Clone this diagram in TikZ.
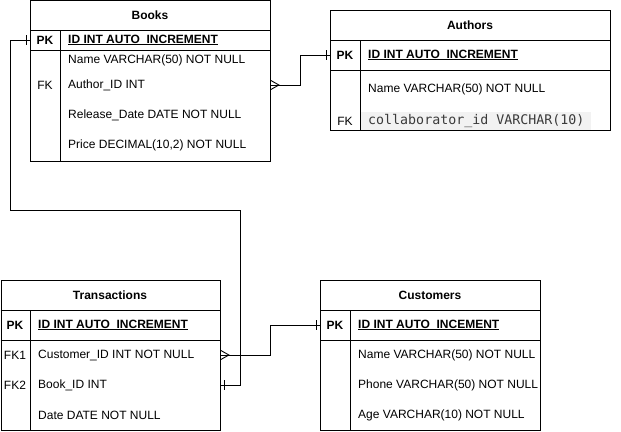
\documentclass[tikz,border=0pt]{standalone}
\usepackage{fontspec}
\setmainfont{Liberation Sans}
\setmonofont{DejaVu Sans Mono}
\usetikzlibrary{calc}
\definecolor{codebg}{HTML}{F2F2F2}
\definecolor{codefg}{HTML}{3B3B3B}
\newcommand\myul[1]{\setbox0\hbox{#1}\rlap{\rule[-2.2pt]{\wd0}{0.9pt}}\box0}
\tikzset{
  tbl/.style={draw, line width=0.9pt, minimum width=#1, inner sep=0pt, anchor=north west, rectangle},
  ttl/.style={font=\fontsize{12}{14}\selectfont\bfseries, inner sep=0pt, anchor=center},
  key/.style={font=\fontsize{12}{14}\selectfont, inner sep=0pt, anchor=center},
  pkkey/.style={font=\fontsize{12}{14}\selectfont\bfseries, inner sep=0pt, anchor=center},
  fld/.style={font=\fontsize{12}{14}\selectfont, inner sep=0pt, anchor=west},
  pkfld/.style={font=\fontsize{12}{14}\selectfont\bfseries, inner sep=0pt, anchor=west},
  grid/.style={line width=0.9pt},
  conn/.style={line width=0.9pt},
}
\begin{document}
\begin{tikzpicture}[x=1pt,y=-1pt]
\useasboundingbox (0,0) rectangle (621,431);
% ---------- Books ----------
\node[tbl=240pt, minimum height=160pt] (books) at (30,0.5) {};
\draw[grid] (30,30) -- (270,30) (30,50) -- (270,50) (60,30) -- (60,160.5);
\node[ttl] (booksT) at (150,15) {Books};
\node[pkkey] (booksPKk) at (45,40) {PK};
\node[pkfld] (booksPK) at (68,40) {\myul{ID INT AUTO\_INCREMENT}};
\node[fld] (booksName) at (68,60) {Name VARCHAR(50) NOT NULL};
\node[key] (booksFKk) at (45,85) {FK};
\node[fld] (booksAuth) at (68,85) {Author\_ID INT};
\node[fld] (booksRel) at (68,115) {Release\_Date DATE NOT NULL};
\node[fld] (booksPrice) at (68,145) {Price DECIMAL(10,2) NOT NULL};
% ---------- Authors ----------
\node[tbl=280pt, minimum height=120pt] (authors) at (330,10) {};
\draw[grid] (330,40) -- (610,40) (330,70) -- (610,70) (360,40) -- (360,130);
\node[ttl] (authT) at (470,25) {Authors};
\node[pkkey] (authPKk) at (345,55) {PK};
\node[pkfld] (authPK) at (368,55) {\myul{ID INT AUTO\_INCREMENT}};
\node[fld] (authName) at (368,89) {Name VARCHAR(50) NOT NULL};
\node[key] (authFKk) at (345,121) {FK};
\node[anchor=west, fill=codebg, text=codefg, inner xsep=7pt, inner ysep=2.5pt,
      font=\ttfamily\fontsize{13.3}{15}\selectfont] (authCollab) at (361,121) {collaborator\_id VARCHAR(10)};
% ---------- Transactions ----------
\node[tbl=219.5pt, minimum height=150pt] (trans) at (0.5,280) {};
\draw[grid] (0.5,310) -- (220,310) (0.5,340) -- (220,340) (30,310) -- (30,430);
\node[ttl] (transT) at (110,295) {Transactions};
\node[pkkey] (transPKk) at (15,325) {PK};
\node[pkfld] (transPK) at (38,325) {\myul{ID INT AUTO\_INCREMENT}};
\node[key] (transFK1k) at (15,355) {FK1};
\node[fld] (transCust) at (38,355) {Customer\_ID INT NOT NULL};
\node[key] (transFK2k) at (15,385) {FK2};
\node[fld] (transBook) at (38,385) {Book\_ID INT};
\node[fld] (transDate) at (38,415) {Date DATE NOT NULL};
% ---------- Customers ----------
\node[tbl=220pt, minimum height=150pt] (cust) at (320,280) {};
\draw[grid] (320,310) -- (540,310) (320,340) -- (540,340) (350,310) -- (350,430);
\node[ttl] (custT) at (430,295) {Customers};
\node[pkkey] (custPKk) at (335,325) {PK};
\node[pkfld] (custPK) at (358,325) {\myul{ID INT AUTO\_INCEMENT}};
\node[fld] (custName) at (358,355) {Name VARCHAR(50) NOT NULL};
\node[fld] (custPhone) at (358,385) {Phone VARCHAR(50) NOT NULL};
\node[fld] (custAge) at (358,415) {Age VARCHAR(10) NOT NULL};
% ---------- Connectors ----------
% Books.Author_ID (many) -> Authors.PK (one)
\coordinate (c1a) at (books.east |- booksAuth);
\coordinate (c1b) at (authors.west |- authPK);
\draw[conn] (c1a) -- (300,85) -- (300,55) -- (c1b);
\draw[conn] ($(c1a)+(0,-4.5)$) -- ($(c1a)+(8,0)$) -- ($(c1a)+(0,4.5)$);
\draw[conn] ($(c1b)+(-4,-5)$) -- ($(c1b)+(-4,5)$);
% Books.PK (one) -> Transactions.Book_ID (one)
\coordinate (c2a) at (books.west |- booksPK);
\coordinate (c2b) at (trans.east |- transBook);
\draw[conn] (c2a) -- (10,40) -- (10,210) -- (240,210) -- (240,385) -- (c2b);
\draw[conn] ($(c2a)+(-4,-5)$) -- ($(c2a)+(-4,5)$);
\draw[conn] ($(c2b)+(4,-5)$) -- ($(c2b)+(4,5)$);
% Transactions.Customer_ID (many) -> Customers.PK (one)
\coordinate (c3a) at (trans.east |- transCust);
\coordinate (c3b) at (cust.west |- custPK);
\draw[conn] (c3a) -- (270,355) -- (270,325) -- (c3b);
\draw[conn] ($(c3a)+(0,-4.5)$) -- ($(c3a)+(8,0)$) -- ($(c3a)+(0,4.5)$);
\draw[conn] ($(c3b)+(-4,-5)$) -- ($(c3b)+(-4,5)$);
\end{tikzpicture}
\end{document}
